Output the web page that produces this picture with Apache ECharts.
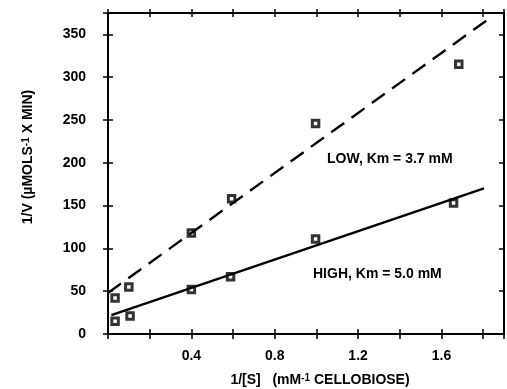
<!DOCTYPE html>
<html>
<head>
<meta charset="utf-8">
<script src="https://cdn.jsdelivr.net/npm/echarts@6/dist/echarts.min.js"></script>
<style>
  html, body { margin: 0; padding: 0; background: #fff; }
  #chart { width: 507px; height: 389px; }
</style>
</head>
<body>
<div id="chart"></div>
<script>
// measured points, 1/[S] vs 1/V
const lowX = [0.034, 0.100, 0.40, 0.593, 0.996, 1.683]
const lowY = [42, 55, 118, 158, 246, 315]
const highX = [0.034, 0.106, 0.40, 0.588, 0.996, 1.658]
const highY = [15, 21, 52, 67, 111, 153]

// fitted lines (end points)
const lowFitX = [0, 1.838]
const lowFitY = [48, 370]
const highFitX = [0.016, 1.804]
const highFitY = [22, 170]

const xLabels = ['0.4', '0.8', '1.2', '1.6']
const yLabels = ['0', '50', '100', '150', '200', '250', '300', '350']

const font = '"Liberation Sans", Arial, sans-serif'
const zip = (xs, ys) => xs.map((x, i) => [x, ys[i]])

const chart = echarts.init(document.getElementById('chart'))

const baseX = {
  type: 'value', min: 0, max: 1.9, interval: 0.2,
  splitLine: {show: false},
}
const baseY = {
  type: 'value', min: 0, max: 375, interval: 50,
  splitLine: {show: false},
}
const line = {show: true, onZero: false, lineStyle: {color: '#000', width: 2}}
const noLine = {show: false, onZero: false}
const tick = (inside, len) => ({show: true, inside, length: len, lineStyle: {color: '#000', width: 1.5}})
const square = {color: '#fff', borderColor: '#000', borderWidth: 3}

chart.setOption({
  animation: false,
  backgroundColor: '#fff',
  grid: {left: 108, right: -4, top: 13, bottom: 55},
  xAxis: [
    {
      ...baseX, position: 'bottom', axisLine: line, axisTick: tick(false, 5),
      axisLabel: {
        margin: 15, color: '#000', fontSize: 14, fontWeight: 'bold', fontFamily: font,
        formatter: v => {
          const s = v.toFixed(1)
          return xLabels.includes(s) ? s : ''
        }
      }
    },
    {...baseX, position: 'bottom', axisLine: noLine, axisTick: tick(true, 5), axisLabel: {show: false}},
    {...baseX, position: 'top', axisLine: line, axisTick: tick(false, 4), axisLabel: {show: false}},
    {...baseX, position: 'top', axisLine: noLine, axisTick: tick(true, 4), axisLabel: {show: false}},
  ],
  yAxis: [
    {
      ...baseY, position: 'left', axisLine: line, axisTick: tick(false, 5),
      axisLabel: {
        margin: 22, color: '#000', fontSize: 14, fontWeight: 'bold', fontFamily: font,
        formatter: v => yLabels.includes(String(v)) ? String(v) : ''
      }
    },
    {...baseY, position: 'left', axisLine: noLine, axisTick: tick(true, 5), axisLabel: {show: false}},
    {...baseY, position: 'right', axisLine: line, axisTick: tick(true, 5), axisLabel: {show: false}},
  ],
  series: [
    {
      type: 'line', data: zip(lowFitX, lowFitY), symbol: 'none', silent: true,
      lineStyle: {color: '#000', width: 2.4, type: [16, 9]}
    },
    {
      type: 'line', data: zip(highFitX, highFitY), symbol: 'none', silent: true,
      lineStyle: {color: '#000', width: 2.4}
    },
    {type: 'scatter', data: zip(lowX, lowY), symbol: 'rect', symbolSize: 6.5, itemStyle: square},
    {type: 'scatter', data: zip(highX, highY), symbol: 'rect', symbolSize: 6.5, itemStyle: square},
  ],
  graphic: [
    {
      type: 'text', x: 28, y: 157, rotation: Math.PI / 2,
      style: {
        text: '1/V (µMOLS{sup|-1} X MIN)',
        align: 'center', verticalAlign: 'middle',
        fill: '#000', font: 'bold 14px ' + font,
        rich: {sup: {fontSize: 10, fontWeight: 'bold', fontFamily: font, verticalAlign: 'top', lineHeight: 10}}
      }
    },
    {
      type: 'text', x: 320, y: 380,
      style: {
        text: '1/[S]   (mM{sup|-1} CELLOBIOSE)',
        align: 'center', verticalAlign: 'middle',
        fill: '#000', font: 'bold 14px ' + font,
        rich: {sup: {fontSize: 10, fontWeight: 'bold', fontFamily: font, verticalAlign: 'top', lineHeight: 10}}
      }
    },
    {
      type: 'text', x: 327, y: 159,
      style: {text: 'LOW, Km = 3.7 mM', align: 'left', verticalAlign: 'middle', fill: '#000', font: 'bold 14px ' + font}
    },
    {
      type: 'text', x: 313, y: 274,
      style: {text: 'HIGH, Km = 5.0 mM', align: 'left', verticalAlign: 'middle', fill: '#000', font: 'bold 14px ' + font}
    },
  ],
})
</script>
</body>
</html>
